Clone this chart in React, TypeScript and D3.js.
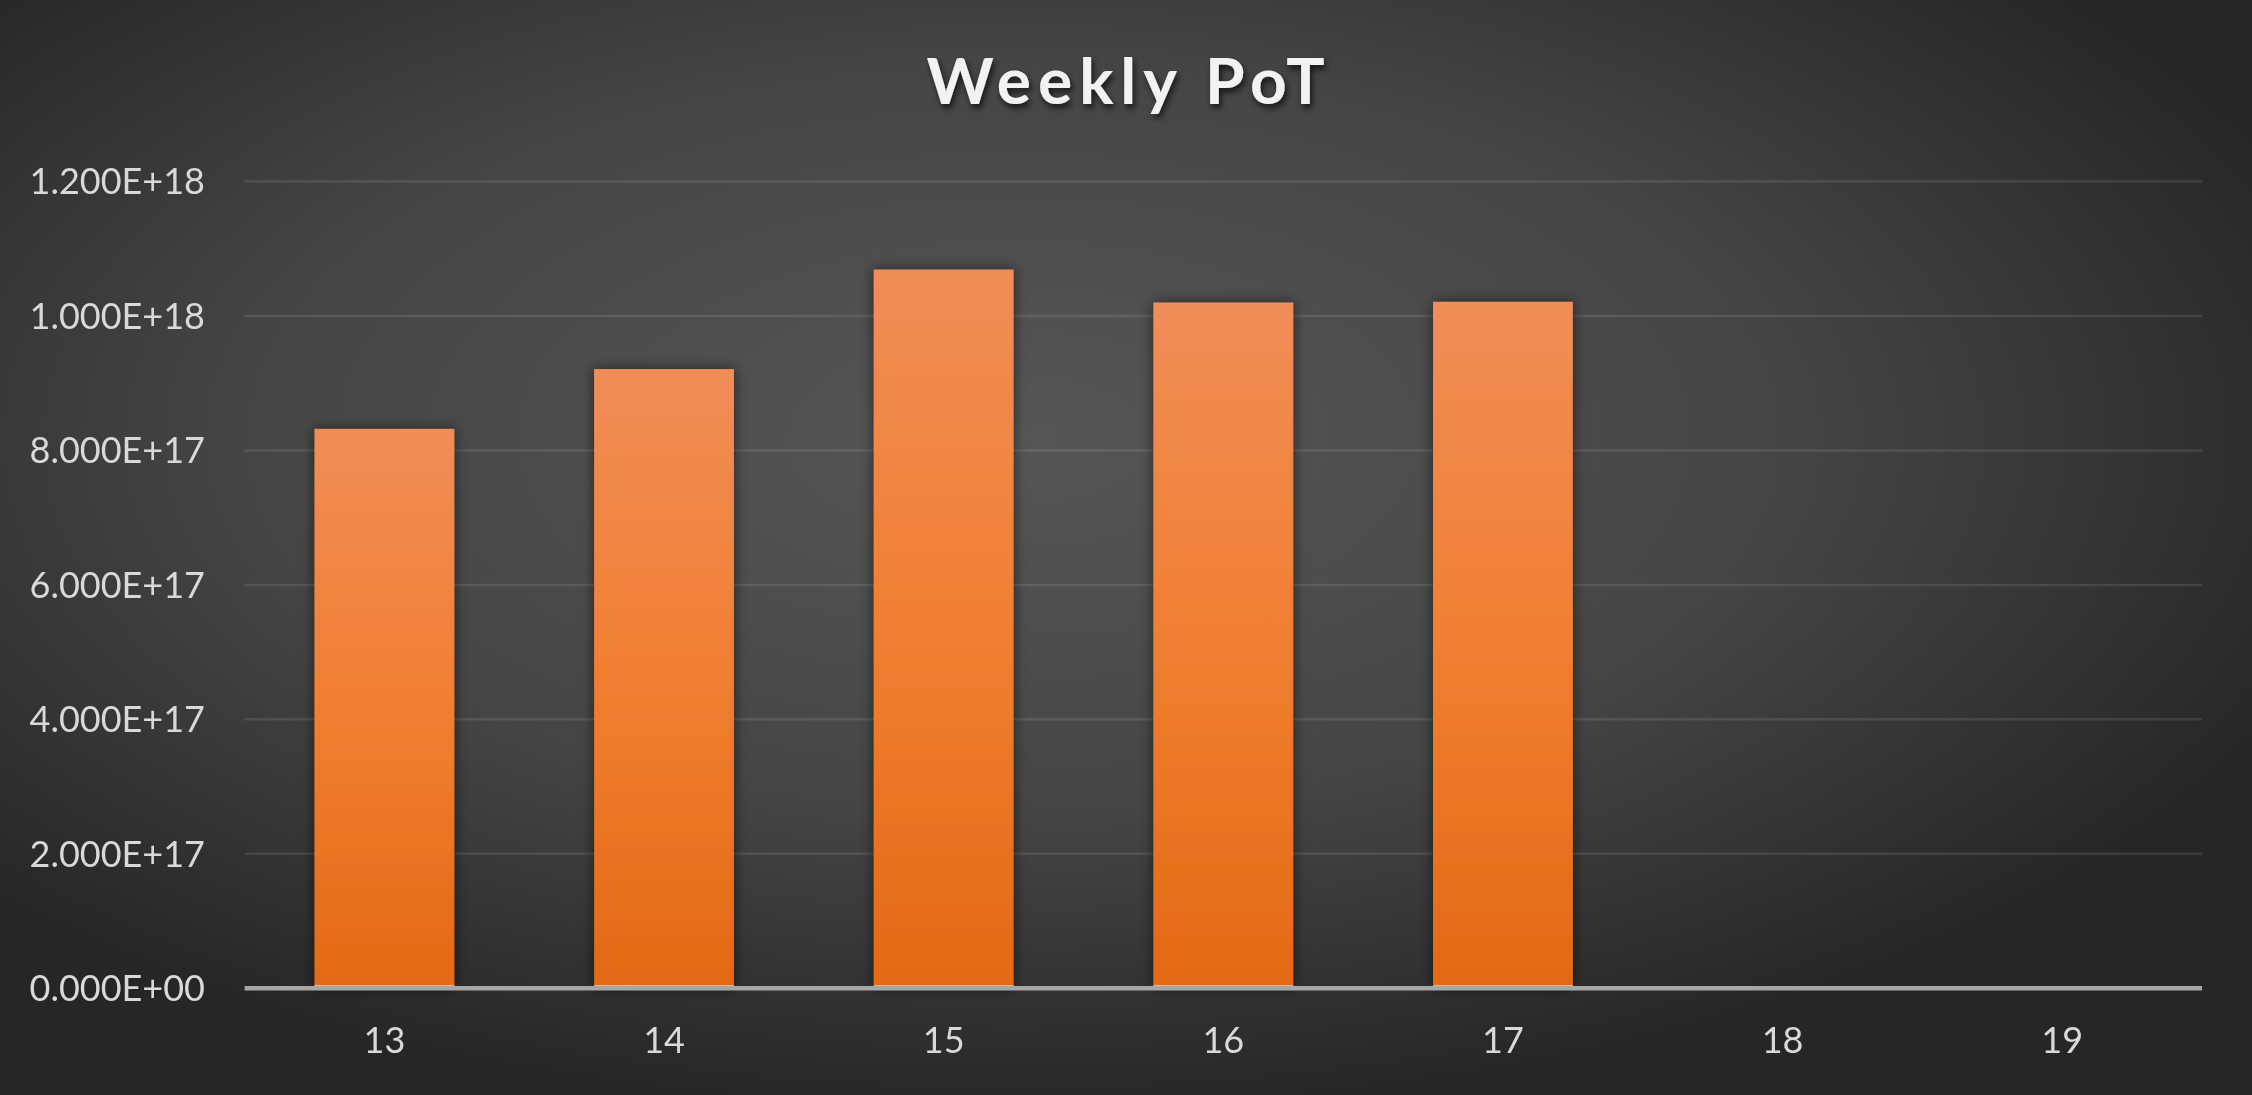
import React from "react";
import * as d3 from "d3";

const weeks: string[] = ["13", "14", "15", "16", "17", "18", "19"];
const potValues: (number | null)[] = [8.32e17, 9.21e17, 1.069e18, 1.02e18, 1.021e18, null, null];
const yTicks: number[] = [0, 2e17, 4e17, 6e17, 8e17, 1e18, 1.2e18];
const chartTitle = "Weekly PoT";

const W = 2252;
const H = 1095;
const plotLeft = 244.6;
const plotRight = 2202;
const plotTop = 181.5;
const plotBottom = 988.3;

function fmtSci(v: number): string {
  const s = d3.format(".3e")(v); // e.g. 1.200e+18
  const [m, e] = s.split("e");
  const sign = e[0] === "-" ? "-" : "+";
  const digits = e.replace(/[+-]/, "").padStart(2, "0");
  return `${m}E${sign}${digits}`;
}

export default function App() {
  const x = d3
    .scaleBand<string>()
    .domain(weeks)
    .range([plotLeft, plotRight])
    .paddingInner(0.5)
    .paddingOuter(0.25);
  const y = d3.scaleLinear().domain([0, 1.2e18]).range([plotBottom, plotTop]);
  const font = "Lato, 'Open Sans', sans-serif";

  return (
    <svg
      width={W}
      height={H}
      style={{ position: "fixed", left: 0, top: 0, display: "block" }}
    >
      <defs>
        <radialGradient id="bg" cx="0.45" cy="0.4" r="0.62" gradientUnits="objectBoundingBox">
          <stop offset="0" stopColor="#565656" />
          <stop offset="0.55" stopColor="#454545" />
          <stop offset="1" stopColor="#262626" />
        </radialGradient>
        <linearGradient id="barGrad" x1="0" y1="0" x2="0" y2="1">
          <stop offset="0" stopColor="#f18d58" />
          <stop offset="0.5" stopColor="#f17f31" />
          <stop offset="1" stopColor="#e36915" />
        </linearGradient>
        <filter id="barShadow" x="-20%" y="-10%" width="140%" height="120%">
          <feDropShadow dx="0" dy="0" stdDeviation="7" floodColor="#000" floodOpacity="0.55" />
        </filter>
        <filter id="titleShadow" x="-10%" y="-30%" width="120%" height="160%">
          <feDropShadow dx="2" dy="4" stdDeviation="3" floodColor="#000" floodOpacity="0.7" />
        </filter>
      </defs>
      <rect x={0} y={0} width={W} height={H} fill="url(#bg)" />

      <text
        x={W / 2 + 3}
        y={104}
        textAnchor="middle"
        fill="#f2f2f2"
        fontFamily={font}
        fontWeight={700}
        fontSize={64}
        letterSpacing={7}
        filter="url(#titleShadow)"
      >
        {chartTitle}
      </text>

      {yTicks.map((t) =>
        t === 0 ? null : (
          <line
            key={`g${t}`}
            x1={plotLeft}
            x2={plotRight}
            y1={y(t)}
            y2={y(t)}
            stroke="#ffffff"
            strokeOpacity={0.1}
            strokeWidth={2.5}
          />
        )
      )}

      {yTicks.map((t) => (
        <text
          key={`t${t}`}
          x={205}
          y={y(t)}
          dy="0.36em"
          textAnchor="end"
          fill="#d9d9d9"
          fontFamily={font}
          fontSize={36}
        >
          {fmtSci(t)}
        </text>
      ))}

      {weeks.map((w, i) => {
        const v = potValues[i];
        if (v == null) return null;
        const x0 = x(w)!;
        return (
          <g key={`b${w}`}>
            <rect
              x={x0}
              y={y(v)}
              width={x.bandwidth()}
              height={y(0) - y(v)}
              fill="url(#barGrad)"
              filter="url(#barShadow)"
            />
            <line
              x1={x0}
              x2={x0 + x.bandwidth()}
              y1={y(0) - 2.5}
              y2={y(0) - 2.5}
              stroke="#f4b183"
              strokeWidth={1.5}
            />
          </g>
        );
      })}

      <line
        x1={plotLeft}
        x2={plotRight}
        y1={plotBottom}
        y2={plotBottom}
        stroke="#a6a6a6"
        strokeWidth={4.5}
      />

      {weeks.map((w) => (
        <text
          key={`x${w}`}
          x={x(w)! + x.bandwidth() / 2}
          y={1053}
          textAnchor="middle"
          fill="#d9d9d9"
          fontFamily={font}
          fontSize={36}
        >
          {w}
        </text>
      ))}
    </svg>
  );
}
